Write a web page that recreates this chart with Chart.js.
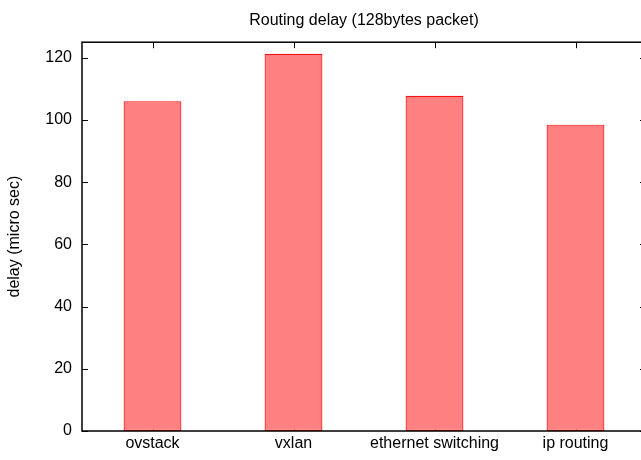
<!DOCTYPE html>
<html>
<head>
<meta charset="utf-8">
<script src="https://cdn.jsdelivr.net/npm/chart.js@4/dist/chart.umd.min.js"></script>
<style>
  html, body { margin: 0; padding: 0; overflow: hidden; background: #fff; }
  #wrap { position: absolute; left: 0; top: 0; width: 650px; height: 460px; }
</style>
</head>
<body>
<div id="wrap"><canvas id="chart"></canvas></div>
<script>
const categories = ["ovstack", "vxlan", "ethernet switching", "ip routing"];
const delays = [106, 121.3, 107.8, 98.5];
const yTicks = [0, 20, 40, 60, 80, 100, 120];

const FONT = "'Liberation Sans', Arial, Helvetica, sans-serif";

// gnuplot style frame with inward ticks
const framePlugin = {
  id: "frame",
  beforeDatasetsDraw(chart) {
    const { ctx, chartArea: a, scales } = chart;
    ctx.save();
    ctx.strokeStyle = "#000";
    ctx.lineWidth = 1;
    ctx.beginPath();
    yTicks.forEach(v => {
      const y = Math.round(scales.y.getPixelForValue(v)) + 0.5;
      ctx.moveTo(a.left, y); ctx.lineTo(a.left + 6, y);
      ctx.moveTo(a.right, y); ctx.lineTo(a.right - 6, y);
    });
    categories.forEach((c, i) => {
      const x = Math.round(scales.x.getPixelForValue(i)) + 0.5;
      ctx.moveTo(x, a.top); ctx.lineTo(x, a.top + 6);
      ctx.moveTo(x, a.bottom); ctx.lineTo(x, a.bottom - 6);
    });
    ctx.stroke();
    ctx.restore();
  },
  afterDatasetsDraw(chart) {
    const { ctx, chartArea: a } = chart;
    ctx.save();
    ctx.strokeStyle = "#000";
    ctx.lineWidth = 1.5;
    ctx.strokeRect(a.left, a.top, a.right - a.left, a.bottom - a.top);
    ctx.restore();
  }
};

new Chart(document.getElementById("chart"), {
  type: "bar",
  data: {
    labels: categories,
    datasets: [{
      label: "delay",
      data: delays,
      backgroundColor: "#ff8080",
      borderColor: "#ff1010",
      borderWidth: 1.2,
      borderSkipped: false,
      barPercentage: 0.41,
      categoryPercentage: 1
    }]
  },
  options: {
    responsive: true,
    maintainAspectRatio: false,
    animation: false,
    layout: { padding: { left: 0, right: 4, top: 0, bottom: 0 } },
    plugins: {
      legend: { display: false },
      tooltip: { enabled: false },
      title: {
        display: true,
        text: "Routing delay (128bytes packet)",
        fullSize: false,
        color: "#000",
        font: { family: FONT, size: 16, weight: "normal", lineHeight: 1.2 },
        padding: { top: 11, bottom: 12 }
      }
    },
    scales: {
      x: {
        offset: true,
        grid: { display: false, drawTicks: false },
        border: { display: false },
        ticks: { color: "#000", font: { family: FONT, size: 16 }, padding: 3, maxRotation: 0 },
        afterFit(s) { s.height = 29; }
      },
      y: {
        min: 0,
        max: 125,
        grid: { display: false, drawTicks: false },
        border: { display: false },
        afterBuildTicks(s) { s.ticks = yTicks.map(v => ({ value: v })); },
        ticks: { color: "#000", font: { family: FONT, size: 16 }, padding: 10 },
        title: {
          display: true,
          text: "delay (micro sec)",
          color: "#000",
          font: { family: FONT, size: 16 },
          padding: { top: 5, bottom: 0 }
        },
        afterFit(s) { s.width = 82; }
      }
    }
  },
  plugins: [framePlugin]
});
</script>
</body>
</html>
